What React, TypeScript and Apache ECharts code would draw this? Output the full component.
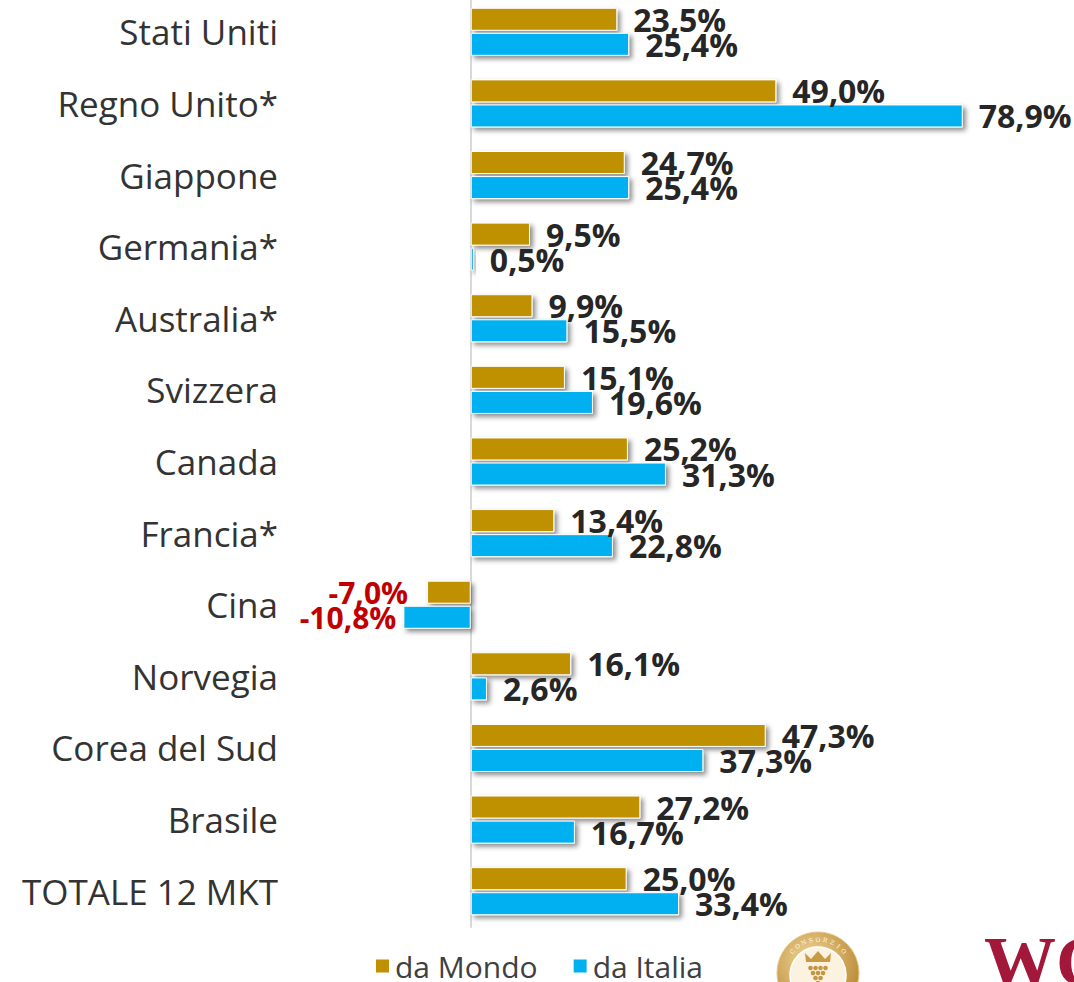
import React, { useEffect, useRef } from "react";
import * as echarts from "echarts";

const categories = [
  "Stati Uniti",
  "Regno Unito*",
  "Giappone",
  "Germania*",
  "Australia*",
  "Svizzera",
  "Canada",
  "Francia*",
  "Cina",
  "Norvegia",
  "Corea del Sud",
  "Brasile",
  "TOTALE 12 MKT",
];
const daMondo = [23.5, 49.0, 24.7, 9.5, 9.9, 15.1, 25.2, 13.4, -7.0, 16.1, 47.3, 27.2, 25.0];
const daItalia = [25.4, 78.9, 25.4, 0.5, 15.5, 19.6, 31.3, 22.8, -10.8, 2.6, 37.3, 16.7, 33.4];
const seriesNames = ["da Mondo", "da Italia"];

const GOLD = "#BF9000";
const BLUE = "#00B0F0";
const RED = "#C00000";
const LABEL = "#262626";
const FONT = '"Open Sans", "Noto Sans", sans-serif';

const fmt = (v: number) => v.toFixed(1).replace(".", ",") + "%";

function makeData(values: number[], dist: number, negDist: number) {
  return values.map((v) => ({
    value: v,
    label:
      v < 0
        ? { position: "left", distance: negDist, color: RED, fontSize: 30 }
        : { position: "right", distance: dist, color: LABEL },
  }));
}

function sealGraphics() {
  const cx = 818;
  const cy = 973;
  const els: any[] = [];
  els.push({
    type: "circle",
    shape: { cx, cy, r: 41 },
    style: {
      fill: new echarts.graphic.RadialGradient(0.4, 0.35, 0.7, [
        { offset: 0, color: "#F3D89A" },
        { offset: 1, color: "#B5852F" },
      ]),
      stroke: "#E5C888",
      lineWidth: 1,
    },
  });
  els.push({
    type: "circle",
    shape: { cx, cy: cy + 2, r: 28 },
    style: { fill: "#FBF3E0", stroke: "#FFFFFF", lineWidth: 1.5 },
  });
  const word = "CONSORZIO";
  for (let i = 0; i < word.length; i++) {
    const a = (-140 + (i * 100) / (word.length - 1)) * (Math.PI / 180);
    const r = 34;
    els.push({
      type: "text",
      x: cx + r * Math.cos(a),
      y: cy + r * Math.sin(a),
      rotation: -(a + Math.PI / 2),
      style: {
        text: word[i],
        fill: "#FFF8E8",
        font: '6px "DejaVu Serif"',
        align: "center",
        verticalAlign: "middle",
      },
    });
  }
  els.push({
    type: "polygon",
    shape: {
      points: [
        [cx - 12, cy - 11],
        [cx - 13, cy - 20],
        [cx - 7, cy - 14],
        [cx, cy - 22],
        [cx + 7, cy - 14],
        [cx + 13, cy - 20],
        [cx + 12, cy - 11],
      ],
    },
    style: { fill: "#C89A45" },
  });
  const rows = [4, 3, 2, 1];
  rows.forEach((n, ri) => {
    for (let k = 0; k < n; k++) {
      els.push({
        type: "circle",
        shape: { cx: cx - ((n - 1) * 5) / 2 + k * 5, cy: cy - 5 + ri * 5, r: 2.3 },
        style: { fill: "#C59640" },
      });
    }
  });
  return els;
}

export default function App() {
  const ref = useRef<HTMLDivElement>(null);
  useEffect(() => {
    document.body.style.margin = "0";
    const chart = echarts.init(ref.current!, null, { renderer: "svg" });
    const barStyle = (color: string) => ({
      color,
      borderColor: "#FFFFFF",
      borderWidth: 1,
      shadowBlur: 5,
      shadowOffsetX: 3,
      shadowOffsetY: 3,
      shadowColor: "rgba(0,0,0,0.45)",
    });
    const labelBase = {
      show: true,
      formatter: (p: any) => fmt(p.value),
      fontSize: 32,
      fontWeight: "bold",
      fontFamily: FONT,
      color: LABEL,
    };
    chart.setOption({
      animation: false,
      backgroundColor: "#FFFFFF",
      textStyle: { fontFamily: FONT },
      grid: {
        left: 346,
        width: 686,
        top: -4,
        height: 931,
        containLabel: false,
        outerBoundsMode: "none",
      },
      legend: {
        data: seriesNames,
        left: 369,
        top: 946,
        icon: "rect",
        itemWidth: 15,
        itemHeight: 15,
        itemGap: 34,
        textStyle: { fontSize: 30, color: "#404040", fontFamily: FONT },
      },
      xAxis: {
        type: "value",
        min: -20,
        max: 90,
        show: false,
        splitLine: { show: false },
      },
      yAxis: {
        type: "category",
        data: categories,
        inverse: true,
        axisLine: { show: true, onZero: true, lineStyle: { color: "#D9D9D9", width: 2 } },
        axisTick: { show: false },
        axisLabel: { margin: 68, fontSize: 35, color: "#333333", fontFamily: FONT },
      },
      series: [
        {
          name: seriesNames[0],
          type: "bar",
          barWidth: 23,
          barGap: "9%",
          data: makeData(daMondo, 16, 19),
          itemStyle: barStyle(GOLD),
          label: labelBase,
        },
        {
          name: seriesNames[1],
          type: "bar",
          barWidth: 23,
          barGap: "9%",
          data: makeData(daItalia, 16, 7),
          itemStyle: barStyle(BLUE),
          label: labelBase,
        },
      ],
      graphic: [
        ...sealGraphics(),
        {
          type: "text",
          x: 984,
          y: 926,
          style: {
            text: "WC",
            fill: "#A3183A",
            font: 'bold 72px "Liberation Serif"',
          },
        },
      ],
    });
    return () => chart.dispose();
  }, []);
  return <div ref={ref} style={{ width: 1074, height: 982 }} />;
}
